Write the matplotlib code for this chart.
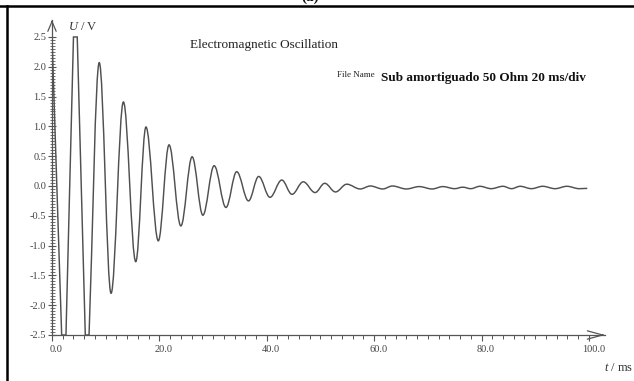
import numpy as np
import matplotlib
matplotlib.use("Agg")
import matplotlib.pyplot as plt
from matplotlib.path import Path
from matplotlib.patches import PathPatch
from matplotlib.lines import Line2D
import matplotlib.transforms as mtransforms

plt.rcParams['font.family'] = ['Liberation Serif', 'DejaVu Serif']
plt.rcParams['mathtext.fontset'] = 'custom'
plt.rcParams['mathtext.rm'] = 'Liberation Serif'
plt.rcParams['mathtext.it'] = 'Liberation Serif:italic'

# extrema of the recorded voltage (time in ms, voltage in V), read off the trace
# values of +-2.5 are where the recorder saturates
t_ext = [0.0, 1.8, 2.6, 4.0, 4.7, 6.2, 6.9, 8.8, 11.0, 13.3, 15.6, 17.5,
         19.8, 21.8, 24.0, 26.1, 28.1, 30.2, 32.4, 34.4, 36.6, 38.5, 40.6,
         42.8, 44.7, 46.8, 49.0, 50.8, 52.8, 54.9, 57.4, 59.3, 61.6, 63.4,
         66.0, 68.4, 70.8, 72.8, 75.0, 76.5, 78.0, 79.7, 81.8, 84.0, 85.6,
         87.2, 89.3, 91.4, 93.7, 95.9, 98.2, 99.7]
u_ext = [2.5, -2.5, -2.5, 2.5, 2.5, -2.5, -2.5, 2.07, -1.80, 1.41, -1.27, 0.99,
         -0.92, 0.69, -0.67, 0.49, -0.49, 0.34, -0.36, 0.24, -0.25, 0.16, -0.19,
         0.10, -0.14, 0.07, -0.11, 0.045, -0.10, 0.03, -0.05, 0.0, -0.05, 0.0,
         -0.05, -0.01, -0.05, -0.01, -0.045, -0.02, -0.045, -0.005, -0.045, -0.005, -0.045,
         -0.005, -0.045, -0.005, -0.045, -0.005, -0.045, -0.04]

x_ticks = [0, 20, 40, 60, 80, 100]
y_ticks = [-2.5, -2.0, -1.5, -1.0, -0.5, 0.0, 0.5, 1.0, 1.5, 2.0, 2.5]
title = "Electromagnetic Oscillation"
file_label = "File Name"
file_name = "Sub amortiguado 50 Ohm 20 ms/div"

SAT = 2.5
W, H = 634, 381
grey = '#555555'

fig = plt.figure(figsize=(W / 100, H / 100), dpi=100)
ax = fig.add_axes([52 / W, 46 / H, (605 - 52) / W, (361 - 46) / H])

# smooth path through the extrema (horizontal tangent at true extrema,
# straight lines where the signal is saturated)
verts = [(t_ext[0], u_ext[0])]
codes = [Path.MOVETO]
for i in range(len(t_ext) - 1):
    t0, u0, t1, u1 = t_ext[i], u_ext[i], t_ext[i + 1], u_ext[i + 1]
    dt = t1 - t0
    s0 = abs(u0) >= SAT
    s1 = abs(u1) >= SAT
    if s0 and s1:
        verts.append((t1, u1))
        codes.append(Path.LINETO)
        continue
    c0 = (t0 + dt / 3, u0 + (u1 - u0) / 3) if s0 else (t0 + 0.364 * dt, u0)
    c1 = (t1 - dt / 3, u1 - (u1 - u0) / 3) if s1 else (t1 - 0.364 * dt, u1)
    verts += [c0, c1, (t1, u1)]
    codes += [Path.CURVE4] * 3
ax.add_patch(PathPatch(Path(verts, codes), fill=False, edgecolor='#505050', lw=1.05))

ax.set_xlim(0, 103)
ax.set_ylim(-2.5, 2.785)
for s in ['top', 'right']:
    ax.spines[s].set_visible(False)
for s in ['left', 'bottom']:
    ax.spines[s].set_color(grey)
    ax.spines[s].set_linewidth(0.9)

ax.set_xticks(x_ticks)
ax.set_xticklabels(['%.1f' % v for v in x_ticks])
ax.set_xticks(np.arange(0, 101, 2), minor=True)
ax.set_yticks(y_ticks)
ax.set_yticklabels(['%.1f' % v for v in y_ticks])
ax.set_yticks(np.arange(-2.5, 2.51, 0.05), minor=True)
ax.tick_params(axis='x', which='major', direction='out', length=4, width=0.8,
               color=grey, labelsize=7.5, labelcolor='#444444', pad=3.5)
ax.tick_params(axis='x', which='minor', direction='out', length=3, width=0.7, color=grey)
ax.tick_params(axis='y', which='major', direction='inout', length=6, width=0.8,
               color=grey, labelsize=7.5, labelcolor='#444444', pad=1)
ax.tick_params(axis='y', which='minor', direction='inout', length=3.6, width=0.6, color=grey)
shift = mtransforms.ScaledTranslation(4.5 / 100, 0, fig.dpi_scale_trans)
for lab in ax.get_xticklabels():
    lab.set_transform(lab.get_transform() + shift)

# axis arrows (heads only, the spines are the shafts)
ax.annotate('', xy=(1, 0), xytext=(0.995, 0), xycoords='axes fraction',
            arrowprops=dict(arrowstyle='->,head_length=1.1,head_width=0.3',
                            color=grey, lw=0.9, shrinkA=0, shrinkB=0))
ax.annotate('', xy=(0, 1), xytext=(0, 0.995), xycoords='axes fraction',
            arrowprops=dict(arrowstyle='->,head_length=0.7,head_width=0.3',
                            color=grey, lw=0.9, shrinkA=0, shrinkB=0))

# texts
fig.text(68 / W, 1 - 27 / H, r'$U$ / V', fontsize=9, color='#333333', va='center')
fig.text(604 / W, 1 - 368 / H, r'$t$ / ms', fontsize=9, color='#333333', va='center')
fig.text(190 / W, 1 - 45 / H, title, fontsize=9.5, color='#222222', va='center')
fig.text(337 / W, 1 - 75 / H, file_label, fontsize=6.5, color='#222222', va='center')
fig.text(381 / W, 1 - 78 / H, file_name, fontsize=9.5, fontweight='bold',
         color='#111111', va='center')
fig.text(310 / W, 1 - 1 / H, '(a)', fontsize=11, fontweight='bold', ha='center',
         va='baseline', color='#111111')

# frame of the panel
fig.add_artist(Line2D([0, 1], [1 - 6 / H, 1 - 6 / H], color='black', lw=1.8))
fig.add_artist(Line2D([6.5 / W, 6.5 / W], [0, 1 - 6 / H], color='black', lw=1.8))

fig.savefig('out.png', dpi=100)
